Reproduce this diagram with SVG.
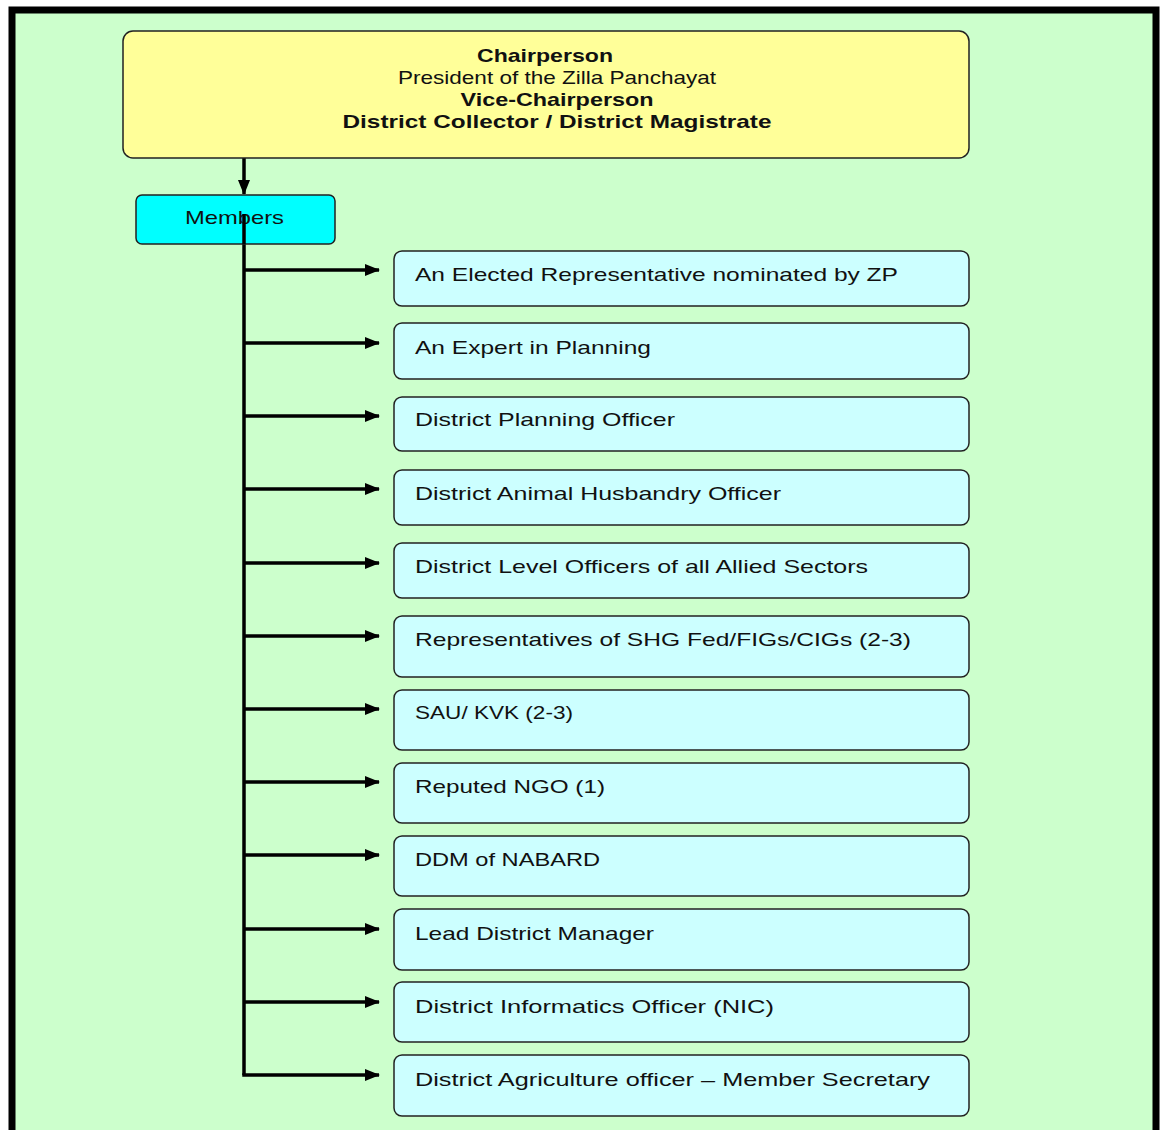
<svg xmlns="http://www.w3.org/2000/svg" width="1160" height="1130" viewBox="0 0 1160 1130">
  <style>
    .t { font-family: "Liberation Sans", Arial, sans-serif; font-size: 19px; fill: #111; }
    .b { font-weight: bold; }
    .box { fill: #CCFFFF; stroke: #222; stroke-width: 1.5; }
    .wire { stroke: #000; stroke-width: 3.5; fill: none; }
  </style>
  <defs>
    <marker id="ah" viewBox="0 0 15 12" refX="14" refY="6" markerWidth="15" markerHeight="12" markerUnits="userSpaceOnUse" orient="auto">
      <path d="M0,0 L15,6 L0,12 Z" fill="#000"/>
    </marker>
  </defs>

  <!-- background and frame -->
  <rect x="0" y="0" width="1160" height="1130" fill="#ffffff"/>
  <rect x="12" y="10" width="1144" height="1120" fill="#CCFFCC"/>
  <path d="M12,1130 V10 H1156 V1130" fill="none" stroke="#000" stroke-width="7"/>

  <!-- connectors -->
  <g id="connectors">
    <line class="wire" x1="244" y1="158" x2="244" y2="194" marker-end="url(#ah)"/>
    <path class="wire" d="M244,214 V1075"/>
    <line class="wire" x1="244" y1="270" x2="379" y2="270" marker-end="url(#ah)"/>
    <line class="wire" x1="244" y1="343" x2="379" y2="343" marker-end="url(#ah)"/>
    <line class="wire" x1="244" y1="416" x2="379" y2="416" marker-end="url(#ah)"/>
    <line class="wire" x1="244" y1="489" x2="379" y2="489" marker-end="url(#ah)"/>
    <line class="wire" x1="244" y1="563" x2="379" y2="563" marker-end="url(#ah)"/>
    <line class="wire" x1="244" y1="636" x2="379" y2="636" marker-end="url(#ah)"/>
    <line class="wire" x1="244" y1="709" x2="379" y2="709" marker-end="url(#ah)"/>
    <line class="wire" x1="244" y1="782" x2="379" y2="782" marker-end="url(#ah)"/>
    <line class="wire" x1="244" y1="855" x2="379" y2="855" marker-end="url(#ah)"/>
    <line class="wire" x1="244" y1="929" x2="379" y2="929" marker-end="url(#ah)"/>
    <line class="wire" x1="244" y1="1002" x2="379" y2="1002" marker-end="url(#ah)"/>
    <line class="wire" x1="242.25" y1="1075" x2="379" y2="1075" marker-end="url(#ah)"/>
  </g>

  <!-- chair node -->
  <g id="chair">
    <rect x="123" y="31" width="846" height="127" rx="10" fill="#FFFF99" stroke="#222" stroke-width="1.5"/>
    <text class="t b" x="545" y="62" text-anchor="middle" textLength="136" lengthAdjust="spacingAndGlyphs">Chairperson</text>
    <text class="t" x="557" y="84" text-anchor="middle" textLength="318" lengthAdjust="spacingAndGlyphs">President of the Zilla Panchayat</text>
    <text class="t b" x="557" y="106" text-anchor="middle" textLength="193" lengthAdjust="spacingAndGlyphs">Vice-Chairperson</text>
    <text class="t b" x="557" y="128" text-anchor="middle" textLength="429" lengthAdjust="spacingAndGlyphs">District Collector / District Magistrate</text>
  </g>

  <!-- members node -->
  <g id="members">
    <rect x="136" y="195" width="199" height="49" rx="6" fill="#00FFFF" stroke="#222" stroke-width="1.5"/>
    <text class="t" x="185" y="224" textLength="99" lengthAdjust="spacingAndGlyphs">Members</text>
  </g>
  <path class="wire" d="M244,214 V244"/>

  <g id="m1"><rect class="box" x="394" y="251" width="575" height="55" rx="8"/><text class="t" x="415" y="281" textLength="483" lengthAdjust="spacingAndGlyphs">An Elected Representative nominated by ZP</text></g>
  <g id="m2"><rect class="box" x="394" y="323" width="575" height="56" rx="8"/><text class="t" x="415" y="354" textLength="236" lengthAdjust="spacingAndGlyphs">An Expert in Planning</text></g>
  <g id="m3"><rect class="box" x="394" y="397" width="575" height="54" rx="8"/><text class="t" x="415" y="426" textLength="260" lengthAdjust="spacingAndGlyphs">District Planning Officer</text></g>
  <g id="m4"><rect class="box" x="394" y="470" width="575" height="55" rx="8"/><text class="t" x="415" y="500" textLength="366" lengthAdjust="spacingAndGlyphs">District Animal Husbandry Officer</text></g>
  <g id="m5"><rect class="box" x="394" y="543" width="575" height="55" rx="8"/><text class="t" x="415" y="573" textLength="453" lengthAdjust="spacingAndGlyphs">District Level Officers of all Allied Sectors</text></g>
  <g id="m6"><rect class="box" x="394" y="616" width="575" height="61" rx="8"/><text class="t" x="415" y="646" textLength="496" lengthAdjust="spacingAndGlyphs">Representatives of SHG Fed/FIGs/CIGs (2-3)</text></g>
  <g id="m7"><rect class="box" x="394" y="690" width="575" height="60" rx="8"/><text class="t" x="415" y="719" textLength="158" lengthAdjust="spacingAndGlyphs">SAU/ KVK (2-3)</text></g>
  <g id="m8"><rect class="box" x="394" y="763" width="575" height="60" rx="8"/><text class="t" x="415" y="793" textLength="190" lengthAdjust="spacingAndGlyphs">Reputed NGO (1)</text></g>
  <g id="m9"><rect class="box" x="394" y="836" width="575" height="60" rx="8"/><text class="t" x="415" y="866" textLength="185" lengthAdjust="spacingAndGlyphs">DDM of NABARD</text></g>
  <g id="m10"><rect class="box" x="394" y="909" width="575" height="61" rx="8"/><text class="t" x="415" y="940" textLength="239" lengthAdjust="spacingAndGlyphs">Lead District Manager</text></g>
  <g id="m11"><rect class="box" x="394" y="982" width="575" height="60" rx="8"/><text class="t" x="415" y="1013" textLength="359" lengthAdjust="spacingAndGlyphs">District Informatics Officer (NIC)</text></g>
  <g id="m12"><rect class="box" x="394" y="1055" width="575" height="61" rx="8"/><text class="t" x="415" y="1086" textLength="515" lengthAdjust="spacingAndGlyphs">District Agriculture officer – Member Secretary</text></g>
</svg>
